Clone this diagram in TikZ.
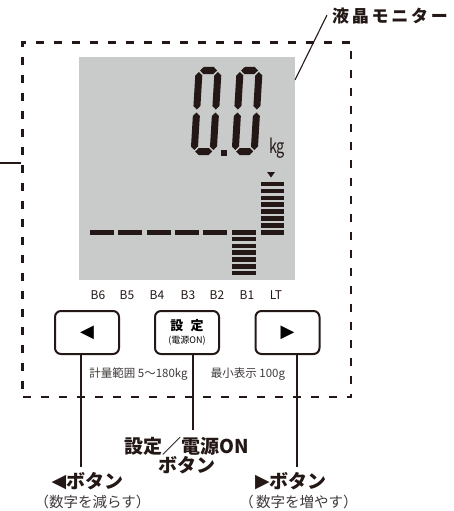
\documentclass[tikz,border=0pt]{standalone}
\usepackage{fontspec}
\setmainfont{Noto Sans CJK JP}
\newfontfamily\symfont{DejaVu Sans}
\newfontfamily\widefont{Noto Sans CJK JP}[LetterSpace=16]
\usetikzlibrary{positioning}

\definecolor{ink}{HTML}{231815}
\definecolor{lcdgray}{HTML}{C9CACA}
\definecolor{softink}{HTML}{3E3A39}

% one seven-segment "0", #1 = lower left corner
\newcommand{\lcdzero}[1]{%
  \begin{scope}[shift={#1}, xslant=0.06]
    \foreach \y in {-84.5,-3.5}
      \fill[ink] (4.5,\y) -- (8,\y-3.5) -- (18,\y-3.5) -- (21.5,\y) -- (18,\y+3.5) -- (8,\y+3.5) -- cycle;
    \foreach \x in {3.5,22.5}
      \foreach \a/\b in {-83/-45.5,-42.5/-5}
        \fill[ink] (\x,\a) -- (\x+3.5,\a+3.5) -- (\x+3.5,\b-3.5) -- (\x,\b) -- (\x-3.5,\b-3.5) -- (\x-3.5,\a+3.5) -- cycle;
  \end{scope}}

\begin{document}
\begin{tikzpicture}[x=1pt, y=-1pt,
  dashframe/.style={draw=ink, line width=2.4pt, dash pattern=on 8pt off 10pt, minimum width=328.5pt, minimum height=354.5pt},
  button/.style={draw=ink, line width=2pt, rounded corners=6pt, minimum width=64pt, minimum height=43pt, inner sep=0pt},
  leader/.style={draw=ink, line width=1.1pt},
  callout/.style={text=ink, inner sep=0pt, font=\bfseries\fontsize{19}{17.5}\selectfont, align=center},
  note/.style={text=softink, inner sep=0pt, font=\fontsize{14.5}{16}\selectfont},
  tag/.style={text=ink, inner sep=0pt, font=\fontsize{12}{13}\selectfont},
  spec/.style={text=softink, inner sep=0pt, font=\fontsize{11.5}{13}\selectfont}]

\useasboundingbox (0,0) rectangle (453,511);

% housing and display
\node[dashframe] (frame) at (186.75,219.75) {};
\node[fill=lcdgray, minimum width=216pt, minimum height=223pt, inner sep=0pt] (lcd) at (187,168.5) {};

\lcdzero{(190.5,155)}
\lcdzero{(231.5,155)}
\fill[ink] (221,150) rectangle (227,156);
\node[text=ink, inner sep=0pt, font=\fontsize{19.5}{19.5}\selectfont] (unit) at (277,148.5) {\scalebox{0.74}[1]{kg}};

% bar graph
\foreach \i in {0,...,4}
  \fill[ink] (90+28.3*\i,230) rectangle ++(24,5);
\foreach \i in {0,...,6}
  \fill[ink] (232,230+6.8*\i) rectangle ++(24,4.6);
\foreach \i in {0,...,7}
  \fill[ink] (261,181.7+6.9*\i) rectangle ++(23,4.6);
\fill[ink] (267,172) -- (275,172) -- (271,177.5) -- cycle;

\foreach \name/\x in {B6/98,B5/127,B4/157,B3/188,B2/217,B1/247,LT/276}
  \node[tag] (tag\name) at (\x,295) {\name};

% buttons
\node[button] (btnleft) at (87,332.5) {\symfont\fontsize{18}{18}\selectfont ◀};
\node[button, align=center, font=\fontsize{9}{13}\selectfont] (btnset) at (187,332.5)
  {{\bfseries\fontsize{13}{14}\selectfont 設\hspace{0.55em}定}\\(電源ON)};
\node[button] (btnright) at (287.5,332.5) {\symfont\fontsize{18}{18}\selectfont ▶};

\node[spec] (range) at (138.5,374) {計量範囲 5～180kg};
\node[spec] (resolution) at (248,374) {最小表示 100g};

% callouts
\node[callout, anchor=west] (lblmonitor) at (332,16) {\widefont\fontsize{17}{18}\selectfont 液晶モニター};
\coordinate (lcdtip) at (295,80);
\draw[leader] (lcdtip) -- ([xshift=-5pt,yshift=1pt]lblmonitor.west);

\coordinate (stub) at (0,163);
\draw[leader] (stub) -- (stub -| frame.west);

\node[callout] (lblset) at (187,455.5) {設定／電源ON\\ボタン};
\node[callout] (lblleft) at (87.5,481) {\raisebox{0.5pt}{\symfont\mdseries\fontsize{19}{19}\selectfont ◀}ボタン};
\node[callout] (lblright) at (291,481) {\raisebox{0.5pt}{\symfont\mdseries\fontsize{19}{19}\selectfont ▶}ボタン};
\node[note] (subleft) at (92.5,502) {（数字を減らす）};
\node[note] (subright) at (298.5,502) {（\,数字を増やす）};

\coordinate (endleft) at (81,467);
\coordinate (endset) at (193,430);
\coordinate (endright) at (297,467);
\draw[leader] (btnleft.south -| endleft) -- (endleft);
\draw[leader] (btnset.south -| endset) -- (endset);
\draw[leader] (btnright.south -| endright) -- (endright);
\end{tikzpicture}
\end{document}
